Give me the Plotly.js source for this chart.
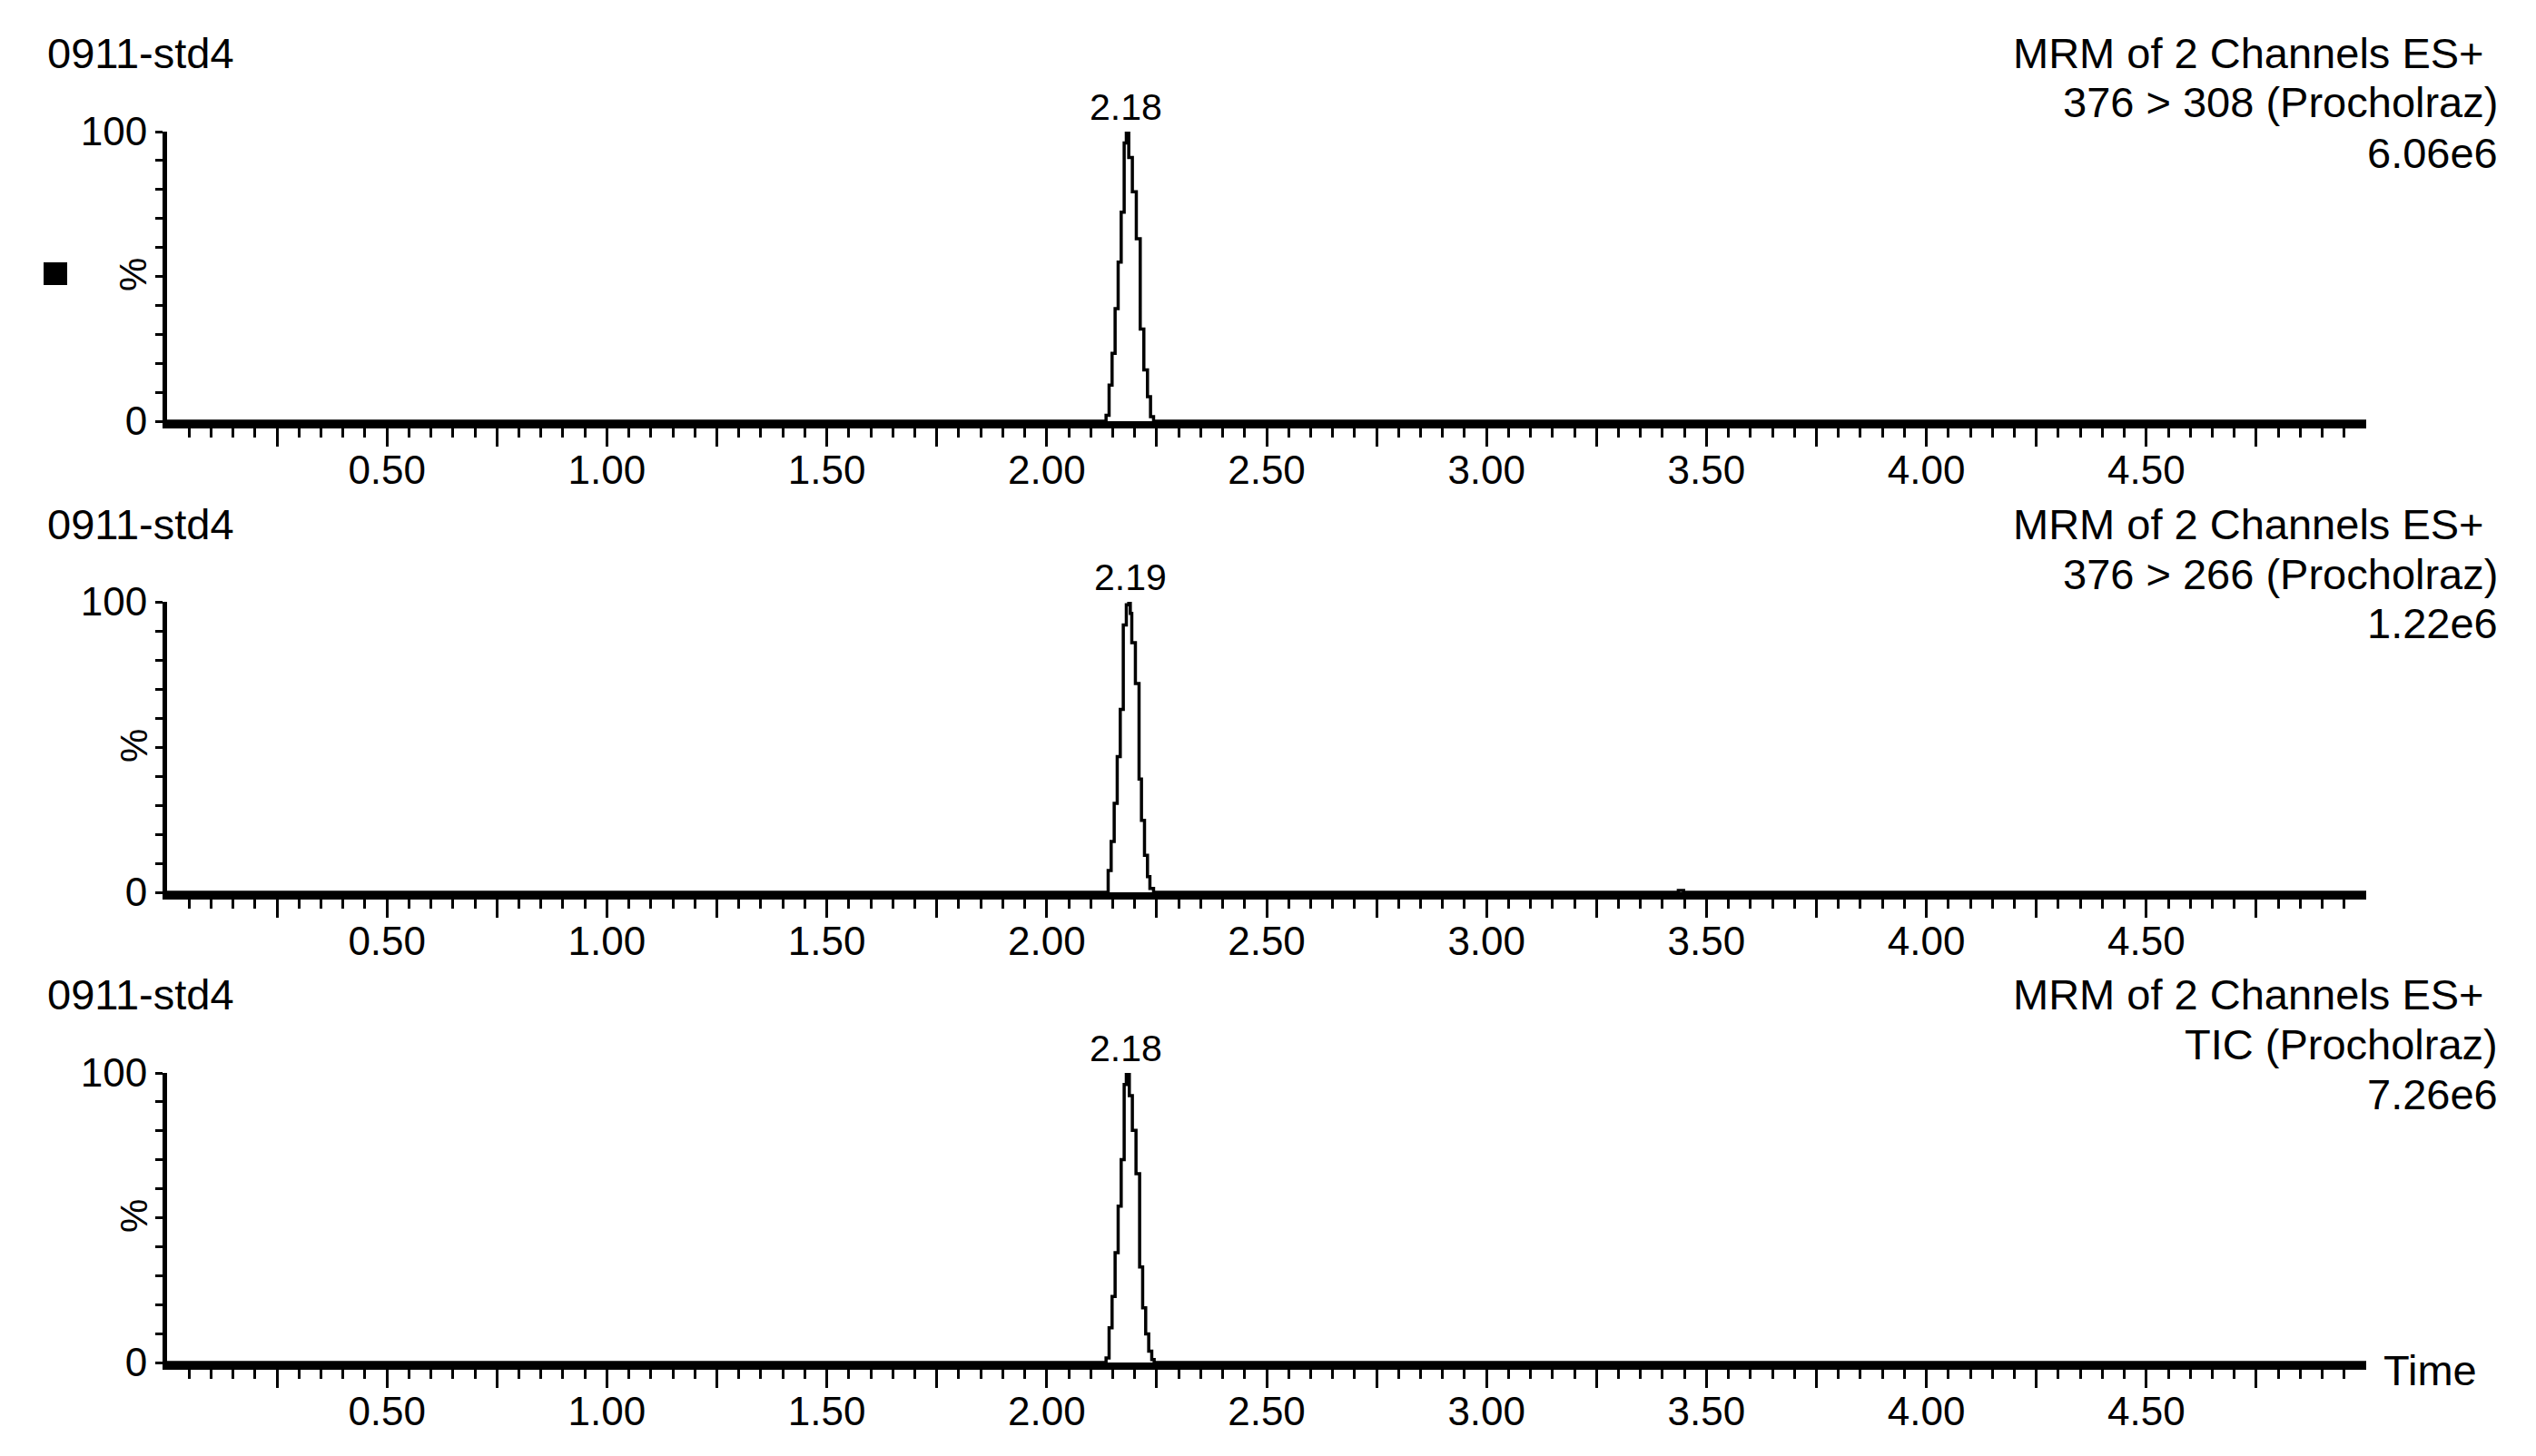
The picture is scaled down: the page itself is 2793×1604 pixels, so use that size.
<!DOCTYPE html>
<html>
<head>
<meta charset="utf-8">
<script src="https://cdn.plot.ly/plotly-3.0.1.min.js"></script>
<style>
  html, body { margin: 0; padding: 0; background: #fff; }
  #chart { width: 2793px; height: 1604px; }
</style>
</head>
<body>
<div id="chart"></div>
<script>
// retention time (min) and relative intensity (%)
var time1 = [0, 2.1349, 2.1418, 2.1486, 2.1555, 2.1624, 2.1693, 2.1761, 2.1810, 2.1865, 2.1947, 2.2037, 2.2126, 2.2208, 2.2291, 2.2360, 2.2429, 5.0];
var pct1  = [0, 2, 12.5, 23.4, 38.9, 54.9, 72.2, 96.1, 100, 91.1, 79.2, 63, 31.8, 17.7, 8.5, 1.6, 0, 0];

var time2 = [0, 2.1397, 2.1465, 2.1534, 2.1603, 2.1672, 2.1741, 2.1810, 2.1865, 2.1900, 2.1934, 2.2016, 2.2099, 2.2154, 2.2223, 2.2291, 2.2346, 2.2429, 3.436, 3.448, 5.0];
var pct2  = [0, 7.5, 17.5, 30.6, 46.7, 63, 92, 99, 100, 96, 85.9, 71.9, 39, 24.8, 12.7, 5.4, 1.3, 0, 0.6, 0, 0];

var time3 = [0, 2.1349, 2.1418, 2.1486, 2.1555, 2.1624, 2.1693, 2.1761, 2.1810, 2.1878, 2.1947, 2.2030, 2.2112, 2.2181, 2.2250, 2.2319, 2.2388, 2.2443, 5.0];
var pct3  = [0, 1.6, 12, 22.8, 37.9, 54, 70.1, 96, 100, 92.2, 80.2, 65.2, 33, 18.9, 9.9, 3.9, 1, 0, 0];

// panel texts
var sampleNames  = ["0911-std4", "0911-std4", "0911-std4"];
var scanTitles   = ["MRM of 2 Channels ES+", "MRM of 2 Channels ES+", "MRM of 2 Channels ES+"];
var channelNames = ["376 > 308 (Procholraz)", "376 > 266 (Procholraz)", "TIC (Procholraz)"];
var maxCounts    = ["6.06e6", "1.22e6", "7.26e6"];
var peakTimes    = [2.18, 2.19, 2.18];

// tick labels
var xTickVals = [0.25, 0.5, 0.75, 1.0, 1.25, 1.5, 1.75, 2.0, 2.25, 2.5, 2.75, 3.0, 3.25, 3.5, 3.75, 4.0, 4.25, 4.5, 4.75];
var xTickText = ["", "0.50", "", "1.00", "", "1.50", "", "2.00", "", "2.50", "", "3.00", "", "3.50", "", "4.00", "", "4.50", ""];
var yTickVals = [0, 10, 20, 30, 40, 50, 60, 70, 80, 90, 100];
var yTickText = ["0", "", "", "", "", "", "", "", "", "", "100"];

var times = [time1, time2, time3];
var pcts = [pct1, pct2, pct3];

// page geometry (pixels)
var W = 2793, H = 1604;
var plotLeft = 184, plotRight = 2606;
var zeroY = [464, 983, 1501];
var topY = [145, 663, 1182];
var off = [0, 519, 1037];

function px(x) { return (x - plotLeft) / (plotRight - plotLeft); }
function py(y) { return 1 - y / H; }

var fontFam = "Liberation Sans, Arial, sans-serif";

// minor x ticks every 0.05 min, skipping the major ones
var minorVals = [];
for (let k = 1; k < 100; k++) {
    if (k % 5 !== 0) minorVals.push(Math.round(k * 5) / 100);
}

var data = [];
var layout = {
    width: W,
    height: H,
    margin: { l: plotLeft, r: W - plotRight, t: 0, b: 0, pad: 0 },
    paper_bgcolor: "#fff",
    plot_bgcolor: "#fff",
    showlegend: false,
    font: { family: fontFam, color: "#000" },
    annotations: [],
    shapes: []
};

for (let i = 0; i < 3; i++) {
    let sfx = i === 0 ? "" : String(i + 1);

    data.push({
        x: times[i],
        y: pcts[i],
        xaxis: "x" + sfx,
        yaxis: "y" + sfx,
        mode: "lines",
        line: { color: "#000", width: 3.5, shape: "hv" },
        hoverinfo: "skip"
    });

    layout["xaxis" + sfx] = {
        domain: [0, 1],
        range: [0, 5],
        anchor: "y" + sfx,
        showline: true, linewidth: 8, linecolor: "#000",
        showgrid: false, zeroline: false,
        ticks: "outside", ticklen: 20, tickwidth: 3, tickcolor: "#000",
        tickmode: "array", tickvals: xTickVals, ticktext: xTickText,
        ticklabelstandoff: -12,
        tickfont: { size: 44, color: "#000", family: fontFam },
        minor: { tickmode: "array", tickvals: minorVals, ticks: "outside", ticklen: 10, tickwidth: 3, tickcolor: "#000", showgrid: false }
    };

    layout["yaxis" + sfx] = {
        domain: [py(zeroY[i]), py(topY[i])],
        range: [0, 100],
        anchor: "x" + sfx,
        showline: true, linewidth: 5, linecolor: "#000",
        showgrid: false, zeroline: false,
        ticks: "outside", ticklen: 8, tickwidth: 3, tickcolor: "#000",
        tickmode: "array", tickvals: yTickVals, ticktext: yTickText,
        tickfont: { size: 44, color: "#000", family: fontFam }
    };

    let hdr = { size: 47, color: "#000", family: fontFam };
    layout.annotations.push(
        { xref: "paper", yref: "paper", x: px(50), y: py(58 + off[i]), xanchor: "left", yanchor: "middle", text: sampleNames[i], showarrow: false, font: hdr },
        { xref: "paper", yref: "paper", x: px(2738), y: py(58 + off[i]), xanchor: "right", yanchor: "middle", text: scanTitles[i], showarrow: false, font: hdr },
        { xref: "paper", yref: "paper", x: px(2753), y: py(113 + off[i]), xanchor: "right", yanchor: "middle", text: channelNames[i], showarrow: false, font: hdr },
        { xref: "paper", yref: "paper", x: px(2753), y: py(168 + off[i]), xanchor: "right", yanchor: "middle", text: maxCounts[i], showarrow: false, font: hdr },
        { xref: "paper", yref: "paper", x: px(147), y: py(303 + off[i]), xanchor: "center", yanchor: "middle", text: "%", textangle: -90, showarrow: false, font: { size: 42, color: "#000", family: fontFam } },
        { xref: "x" + sfx, yref: "y" + sfx, x: peakTimes[i], y: 100, xanchor: "center", yanchor: "middle", yshift: 27, text: peakTimes[i].toFixed(2), showarrow: false, font: { size: 41, color: "#000", family: fontFam } }
    );
}

// axis name at the end of the bottom time axis
layout.annotations.push({ xref: "paper", yref: "paper", x: px(2676), y: py(1509), xanchor: "center", yanchor: "middle", text: "Time", showarrow: false, font: { size: 47, color: "#000", family: fontFam } });

// small black marker square beside the first trace
layout.shapes.push({ type: "rect", xref: "paper", yref: "paper", x0: px(48), x1: px(74), y0: py(314), y1: py(289), fillcolor: "#000", line: { width: 0 } });

Plotly.newPlot("chart", data, layout, { displayModeBar: false, staticPlot: true });
</script>
</body>
</html>
